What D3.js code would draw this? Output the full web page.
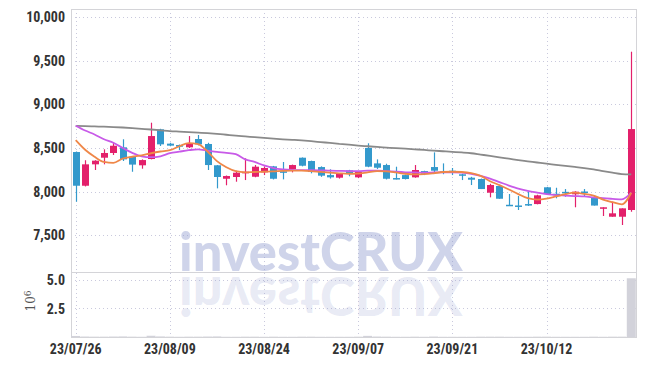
<!DOCTYPE html>
<html>
<head>
<meta charset="utf-8">
<script src="https://cdn.jsdelivr.net/npm/d3@7"></script>
<style>
  html, body { margin: 0; padding: 0; background: #fff; }
  svg { display: block; }
  .tick-label { font-family: "Liberation Sans Narrow", "Roboto Condensed", "DejaVu Sans Condensed", sans-serif; font-size: 14px; font-weight: bold; fill: #333; }
</style>
</head>
<body>
<svg id="chart" width="645" height="366"></svg>
<script>
// trading days shown on the chart
const dates = [
  "23/07/26", "23/07/27", "23/07/28", "23/07/31", "23/08/01", "23/08/02", "23/08/03", "23/08/04", "23/08/07", "23/08/08",
  "23/08/09", "23/08/10", "23/08/11", "23/08/14", "23/08/16", "23/08/17", "23/08/18", "23/08/21", "23/08/22", "23/08/23",
  "23/08/24", "23/08/25", "23/08/28", "23/08/29", "23/08/30", "23/08/31", "23/09/01", "23/09/04", "23/09/05", "23/09/06",
  "23/09/07", "23/09/08", "23/09/11", "23/09/12", "23/09/13", "23/09/14", "23/09/15", "23/09/18", "23/09/19", "23/09/20",
  "23/09/21", "23/09/22", "23/09/25", "23/09/26", "23/09/27", "23/10/04", "23/10/05", "23/10/06", "23/10/10", "23/10/11",
  "23/10/12", "23/10/13", "23/10/16", "23/10/17", "23/10/18", "23/10/19", "23/10/20", "23/10/23", "23/10/24", "23/10/25"
];
const opens = [
  8454, 8068, 8313, 8389, 8443, 8508, 8400, 8302, 8374, 8714,
  8550, 8534, 8508, 8603, 8546, 8302, 8148, 8168, 8210, 8171,
  8221, 8290, 8233, 8259, 8389, 8351, 8282, 8190, 8160, 8244,
  8164, 8500, 8324, 8305, 8156, 8190, 8164, 8236, 8282, 8233,
  8240, 8199, 8160, 8145, 7988, 8065, 7850, 7842, 7858, 7858,
  8050, 7976, 7998, 7970, 8002, 7935, 7805, 7713, 7713, 7790
];
const highs = [
  8460, 8360, 8360, 8485, 8560, 8600, 8405, 8370, 8790, 8720,
  8560, 8540, 8637, 8649, 8560, 8305, 8185, 8240, 8382, 8305,
  8290, 8295, 8340, 8310, 8392, 8355, 8290, 8256, 8205, 8250,
  8235, 8554, 8370, 8320, 8286, 8195, 8305, 8240, 8450, 8324,
  8271, 8205, 8170, 8150, 8090, 8070, 7973, 7950, 8007, 7965,
  8055, 8045, 8030, 8005, 8030, 7962, 7821, 7885, 7809, 9603
];
const lows = [
  7885, 8060, 8248, 8313, 8420, 8351, 8228, 8263, 8370, 8523,
  8520, 8477, 8500, 8530, 8248, 8038, 8073, 8114, 8133, 8165,
  8190, 8140, 8141, 8221, 8290, 8210, 8170, 8150, 8150, 8176,
  8155, 8280, 8260, 8140, 8140, 8140, 8160, 8190, 8225, 8200,
  8190, 8133, 8076, 8030, 7935, 7919, 7836, 7790, 7836, 7855,
  7965, 7924, 7942, 7821, 7942, 7841, 7721, 7713, 7618, 7770
];
const closes = [
  8068, 8313, 8355, 8443, 8526, 8370, 8310, 8362, 8637, 8542,
  8527, 8515, 8554, 8542, 8305, 8168, 8179, 8217, 8228, 8286,
  8271, 8148, 8217, 8305, 8297, 8225, 8183, 8164, 8202, 8202,
  8228, 8286, 8274, 8148, 8145, 8145, 8248, 8206, 8240, 8225,
  8215, 8183, 8137, 8030, 8076, 7919, 7845, 7838, 7853, 7958,
  7973, 7972, 7994, 8000, 7998, 7841, 7821, 7752, 7809, 8717
];
// volume, in millions of shares
const volumes = [
  0.09, 0.04, 0.03, 0.03, 0.04, 0.05, 0.03, 0.02, 0.11, 0.05,
  0.03, 0.02, 0.03, 0.03, 0.04, 0.05, 0.02, 0.02, 0.03, 0.03,
  0.02, 0.03, 0.02, 0.02, 0.03, 0.03, 0.02, 0.02, 0.02, 0.02,
  0.03, 0.10, 0.04, 0.03, 0.02, 0.02, 0.03, 0.02, 0.04, 0.02,
  0.02, 0.02, 0.02, 0.03, 0.03, 0.03, 0.02, 0.02, 0.02, 0.03,
  0.03, 0.02, 0.02, 0.02, 0.02, 0.03, 0.02, 0.03, 0.03, 5.15
];
// moving averages as drawn (short, mid, long)
const maShort = [
  8590, 8480, 8400, 8340, 8330, 8380, 8400, 8415, 8440, 8460,
  8475, 8520, 8555, 8545, 8460, 8350, 8280, 8235, 8222, 8225,
  8228, 8232, 8238, 8240, 8240, 8235, 8226, 8218, 8210, 8205,
  8208, 8222, 8235, 8232, 8220, 8205, 8198, 8200, 8210, 8225,
  8228, 8225, 8212, 8180, 8120, 8075, 8025, 7972, 7925, 7910,
  7920, 7945, 7972, 7988, 7975, 7955, 7910, 7880, 7855, 7988
];
const maMid = [
  8755, 8700, 8655, 8600, 8560, 8500, 8445, 8405, 8395, 8405,
  8440, 8458, 8475, 8485, 8470, 8455, 8445, 8430, 8370, 8340,
  8300, 8270, 8255, 8248, 8246, 8247, 8245, 8240, 8238, 8236,
  8235, 8240, 8242, 8236, 8228, 8222, 8220, 8218, 8220, 8222,
  8222, 8218, 8205, 8180, 8150, 8110, 8070, 8035, 8010, 7990,
  7972, 7960, 7955, 7950, 7945, 7935, 7925, 7918, 7912, 7988
];
const maLong = [
  8754, 8750, 8747, 8744, 8740, 8735, 8728, 8720, 8712, 8703,
  8694, 8688, 8682, 8676, 8670, 8662, 8652, 8642, 8633, 8624,
  8615, 8607, 8600, 8594, 8587, 8578, 8568, 8558, 8548, 8538,
  8528, 8520, 8512, 8505, 8498, 8492, 8485, 8478, 8470, 8463,
  8456, 8449, 8440, 8425, 8410, 8393, 8378, 8362, 8348, 8334,
  8320, 8308, 8295, 8283, 8270, 8255, 8236, 8218, 8202, 8199
];
const priceTicks = [7500, 8000, 8500, 9000, 9500, 10000];
const volumeTicks = [2.5, 5.0];
const xTickLabels = ["23/07/26", "23/08/09", "23/08/24", "23/09/07", "23/09/21", "23/10/12"];

const plotLeft = 71, plotRight = 636, plotTop = 9, split = 272, plotBottom = 337;
const upColor = "#e3206b", downColor = "#3399cc";

const svg = d3.select("#chart");

const x = d3.scalePoint().domain(dates).range([plotLeft, plotRight]).padding(0.5);
const y = d3.scaleLinear().domain([7080, 10092]).range([split, plotTop]);
const yv = d3.scaleLinear().domain([0, 5.7]).range([plotBottom, split]);

// grid
const grid = svg.append("g").attr("stroke", "#c9c9dd").attr("stroke-width", 1).attr("stroke-dasharray", "1,3");
grid.selectAll(".hg").data(priceTicks).enter().append("line")
  .attr("x1", plotLeft).attr("x2", plotRight)
  .attr("y1", d => Math.round(y(d)) + 0.5).attr("y2", d => Math.round(y(d)) + 0.5);
grid.selectAll(".vg").data(volumeTicks).enter().append("line")
  .attr("x1", plotLeft).attr("x2", plotRight)
  .attr("y1", d => Math.round(yv(d)) + 0.5).attr("y2", d => Math.round(yv(d)) + 0.5);
grid.selectAll(".xg").data(xTickLabels).enter().append("line")
  .attr("x1", d => Math.round(x(d)) + 0.5).attr("x2", d => Math.round(x(d)) + 0.5)
  .attr("y1", plotTop).attr("y2", plotBottom);

// watermark with reflection
const wm = svg.append("g");
wm.append("text")
  .attr("x", 179).attr("y", 271)
  .attr("textLength", 284).attr("lengthAdjust", "spacingAndGlyphs")
  .attr("font-family", "Lato, 'Open Sans', sans-serif").attr("font-weight", 900)
  .attr("font-size", 54).attr("fill", "rgba(140,152,205,0.42)")
  .text("investCRUX");
const clip = svg.append("clipPath").attr("id", "volclip");
clip.append("rect").attr("x", plotLeft).attr("y", split).attr("width", plotRight - plotLeft).attr("height", plotBottom - split);
wm.append("g").attr("clip-path", "url(#volclip)")
  .append("text")
  .attr("transform", "translate(0," + (2 * 274) + ") scale(1,-1)")
  .attr("x", 179).attr("y", 271)
  .attr("textLength", 284).attr("lengthAdjust", "spacingAndGlyphs")
  .attr("font-family", "Lato, 'Open Sans', sans-serif").attr("font-weight", 900)
  .attr("font-size", 54).attr("fill", "rgba(140,152,205,0.2)")
  .text("investCRUX");

// frame
const frame = svg.append("g").attr("fill", "none").attr("stroke", "#d4d4d8");
frame.append("rect").attr("x", plotLeft + 0.5).attr("y", plotTop + 0.5).attr("width", plotRight - plotLeft).attr("height", plotBottom - plotTop);
frame.append("line").attr("x1", plotLeft).attr("x2", plotRight).attr("y1", split + 0.5).attr("y2", split + 0.5);

// volume bars
svg.append("g").selectAll("rect").data(dates).enter().append("rect")
  .attr("x", d => x(d) - 4.5)
  .attr("width", 9)
  .attr("y", (d, i) => yv(volumes[i]))
  .attr("height", (d, i) => plotBottom - yv(volumes[i]))
  .attr("fill", "#d2d2da");

// candles
const candles = svg.append("g").selectAll("g").data(dates).enter().append("g");
candles.append("line")
  .attr("x1", d => Math.round(x(d)) + 0.5).attr("x2", d => Math.round(x(d)) + 0.5)
  .attr("y1", (d, i) => y(highs[i])).attr("y2", (d, i) => y(lows[i]))
  .attr("stroke", (d, i) => closes[i] >= opens[i] ? upColor : downColor)
  .attr("stroke-width", 1.2);
candles.append("rect")
  .attr("x", d => Math.round(x(d)) - 3)
  .attr("width", 7)
  .attr("y", (d, i) => y(Math.max(opens[i], closes[i])))
  .attr("height", (d, i) => Math.max(1.5, Math.abs(y(opens[i]) - y(closes[i]))))
  .attr("fill", (d, i) => closes[i] >= opens[i] ? upColor : downColor);

// moving average lines
const line = d3.line().x((d, i) => x(dates[i])).y(d => y(d)).curve(d3.curveMonotoneX);
[[maLong, "#8a8a8a"], [maMid, "#c85ae8"], [maShort, "#ef8748"]].forEach(function (s) {
  svg.append("path").datum(s[0])
    .attr("d", line)
    .attr("fill", "none")
    .attr("stroke", s[1])
    .attr("stroke-width", 1.8);
});

// axes labels
svg.append("g").selectAll("text").data(priceTicks).enter().append("text")
  .attr("class", "tick-label")
  .attr("x", 65).attr("y", d => y(d)).attr("dy", "0.36em")
  .attr("text-anchor", "end")
  .text(d => d3.format(",")(d));
svg.append("g").selectAll("text").data(volumeTicks).enter().append("text")
  .attr("class", "tick-label")
  .attr("x", 65).attr("y", d => yv(d)).attr("dy", "0.36em")
  .attr("text-anchor", "end")
  .text(d => d3.format(".1f")(d));
svg.append("g").selectAll("text").data(xTickLabels).enter().append("text")
  .attr("class", "tick-label")
  .attr("x", d => x(d)).attr("y", 354)
  .attr("text-anchor", "middle")
  .text(d => d);

const unit = svg.append("text")
  .attr("transform", "translate(35,301) rotate(-90)")
  .attr("text-anchor", "middle")
  .attr("font-family", "'DejaVu Serif', serif").attr("font-size", 12).attr("fill", "#555");
unit.append("tspan").text("10");
unit.append("tspan").attr("dy", "-0.5em").attr("font-size", 9).text("6");
</script>
</body>
</html>
